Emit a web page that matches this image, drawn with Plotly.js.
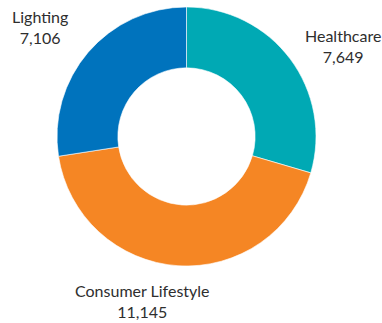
<!DOCTYPE html>
<html>
<head>
<meta charset="utf-8">
<script src="https://cdn.plot.ly/plotly-3.0.1.min.js"></script>
<style>html,body{margin:0;padding:0;background:#fff;}#chart{width:382px;height:323px;}</style>
</head>
<body>
<div id="chart"></div>
<script>
const labels = ["Healthcare", "Consumer Lifestyle", "Lighting"];
const values = [7649, 11145, 7106];
const colors = ["#00a9b4", "#f58624", "#0073bd"];

const labelPos = [
  {x: 343 / 382, y: 1 - 46 / 323},
  {x: 142 / 382, y: 1 - 301 / 323},
  {x: 40 / 382, y: 1 - 27 / 323}
];

const fmt = v => v.toLocaleString("en-US");

const annotations = labels.map((l, i) => ({
  text: l + "<br>" + fmt(values[i]),
  x: labelPos[i].x, y: labelPos[i].y,
  xref: "paper", yref: "paper",
  xanchor: "center", yanchor: "middle",
  showarrow: false,
  align: "center",
  font: {family: "Lato, 'Open Sans', sans-serif", size: 16, color: "#2e2e2e"}
}));

const data = [{
  type: "pie",
  labels: labels,
  values: values,
  hole: 0.53,
  sort: false,
  direction: "clockwise",
  rotation: 0,
  marker: {colors: colors, line: {color: "#ffffff", width: 0.6}},
  textinfo: "none",
  hoverinfo: "label+value",
  showlegend: false,
  domain: {x: [57 / 382, 316 / 382], y: [1 - 266 / 323, 1 - 7 / 323]}
}];

const layout = {
  width: 382, height: 323,
  margin: {l: 0, r: 0, t: 0, b: 0},
  paper_bgcolor: "#ffffff",
  plot_bgcolor: "#ffffff",
  showlegend: false,
  annotations: annotations
};

Plotly.newPlot("chart", data, layout, {staticPlot: true, displayModeBar: false});
</script>
</body>
</html>
